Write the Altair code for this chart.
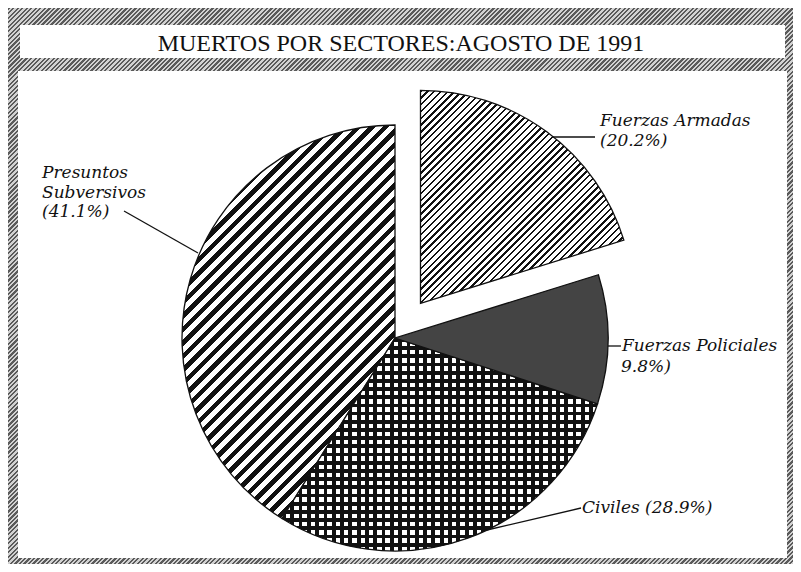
import math
import altair as alt
import pandas as pd

# ---------------- data ----------------
categories = ["Fuerzas Armadas", "Fuerzas Policiales", "Civiles", "Presuntos Subversivos"]
values = [20.2, 9.8, 28.9, 41.1]
title_text = "MUERTOS POR SECTORES:AGOSTO DE 1991"
label_texts = ["Fuerzas Armadas", "(20.2%)",
               "Fuerzas Policiales", "9.8%)",
               "Civiles (28.9%)",
               "Presuntos", "Subversivos", "(41.1%)"]

# ---------------- layout (pixels, reference coords) ----------------
W, H = 785, 556
OFF = 8


def px(v):
    return v - OFF


CX, CY, R = px(395), px(338), 213
EXPLODE = 43
label_pos = [(600, 121), (600, 141),
             (622, 346), (621, 367),
             (582, 508),
             (42, 173), (42, 193), (42, 212)]
leader_pos = [((553, 137), (595, 137)),
              ((608, 346), (621, 346)),
              ((487, 530), (581, 508)),
              ((124, 211), (198, 253))]

total = sum(values)
angles = []
acc = 0.0
for v in values:
    a0 = 2 * math.pi * acc / total
    acc += v
    a1 = 2 * math.pi * acc / total
    angles.append((a0, a1))


def sector_bbox(a0, a1, r):
    pts = [(0.0, 0.0), (r * math.sin(a0), -r * math.cos(a0)), (r * math.sin(a1), -r * math.cos(a1))]
    for k in range(5):
        a = k * math.pi / 2
        if a0 <= a <= a1:
            pts.append((r * math.sin(a), -r * math.cos(a)))
    xs = [p[0] for p in pts]
    ys = [p[1] for p in pts]
    return max(xs) - min(xs), max(ys) - min(ys)


def stripe_stops(n, frac, c_on, c_off):
    stops = []
    for i in range(n):
        a = i / n
        b = (i + frac) / n
        c = (i + 1) / n
        stops += [{"offset": round(a, 6), "color": c_on},
                  {"offset": round(b, 6), "color": c_on},
                  {"offset": round(b, 6), "color": c_off},
                  {"offset": round(min(c, 1.0), 6), "color": c_off}]
    return stops


def diag_grad(w, h, period, frac, c_on, c_off):
    k = (w + h) / (w * w + h * h)
    n = max(1, int(round((w + h) / (period * math.sqrt(2)))))
    return {"gradient": "linear", "x1": 0, "y1": 0, "x2": k * w, "y2": k * h,
            "stops": stripe_stops(n, frac, c_on, c_off)}


def lin_grad(horizontal, length, period, frac, c_on, c_off):
    n = max(1, int(round(length / period)))
    g = {"gradient": "linear", "x1": 0, "y1": 0,
         "x2": 0 if horizontal else 1, "y2": 1 if horizontal else 0,
         "stops": stripe_stops(n, frac, c_on, c_off)}
    return g


# ---------------- base data ----------------
df = pd.DataFrame({"category": categories, "value": values, "idx": list(range(len(values)))})
base = (
    alt.Chart(df)
    .transform_joinaggregate(total="sum(value)")
    .transform_window(cum="sum(value)", sort=[alt.SortField("idx")], frame=[None, 0])
    .transform_calculate(start="2*PI*(datum.cum-datum.value)/datum.total",
                         end="2*PI*datum.cum/datum.total")
)


def slice_layer(cat, fill, cx, cy, stroke=None):
    kw = dict(radius=R, fill=fill)
    if stroke:
        kw.update(stroke=stroke, strokeWidth=1.3)
    else:
        kw.update(strokeWidth=0)
    return (
        base.transform_filter(alt.datum.category == cat)
        .mark_arc(**kw)
        .encode(theta=alt.Theta("start:Q", scale=None), theta2=alt.Theta2("end:Q"),
                x=alt.value(cx), y=alt.value(cy))
    )


one = pd.DataFrame({"a": [0]})

frame = alt.Chart(one).mark_rect(fill=diag_grad(W, H, 3.2, 0.5, "#5a5a5a", "#d2d2d2")).encode(
    x=alt.value(0), x2=alt.value(W), y=alt.value(0), y2=alt.value(H))
title_box = alt.Chart(one).mark_rect(fill="white").encode(
    x=alt.value(px(20)), x2=alt.value(px(785)), y=alt.value(px(25)), y2=alt.value(px(58)))
panel = alt.Chart(one).mark_rect(fill="white").encode(
    x=alt.value(px(18)), x2=alt.value(px(787)), y=alt.value(px(71)), y2=alt.value(px(558)))
title = alt.Chart(pd.DataFrame({"t": [title_text]})).mark_text(
    font="Liberation Serif", fontSize=24, color="#111", align="center", baseline="middle").encode(
    text="t:N", x=alt.value(px(401)), y=alt.value(px(44)))

# slices
a_arm = angles[0]
mid = (a_arm[0] + a_arm[1]) / 2
ex_x = CX + EXPLODE * math.sin(mid)
ex_y = CY - EXPLODE * math.cos(mid)

w0, h0 = sector_bbox(*angles[0], R)
arm = slice_layer(categories[0], diag_grad(w0, h0, 4.8, 0.36, "#111", "white"), ex_x, ex_y, stroke="#111")

pol = slice_layer(categories[1], "#444444", CX, CY, stroke="#111")

w2, h2 = sector_bbox(*angles[2], R)
civ_base = slice_layer(categories[2], "white", CX, CY)
civ_h = slice_layer(categories[2], lin_grad(True, h2, 8.3, 0.46, "#111", "rgba(0,0,0,0)"), CX, CY)
civ_v = slice_layer(categories[2], lin_grad(False, w2, 8.3, 0.46, "#111", "rgba(0,0,0,0)"), CX, CY, stroke="#111")

w3, h3 = sector_bbox(*angles[3], R)
pre = slice_layer(categories[3], diag_grad(w3, h3, 9.5, 0.48, "#111", "white"), CX, CY, stroke="#111")

# labels
lab_df = pd.DataFrame({"text": label_texts,
                       "lx": [px(p[0]) for p in label_pos],
                       "ly": [px(p[1]) for p in label_pos]})
labels = alt.Chart(lab_df).mark_text(
    font="DejaVu Serif", fontStyle="italic", fontSize=17, color="#111",
    align="left", baseline="middle").encode(
    text="text:N", x=alt.X("lx:Q", scale=None), y=alt.Y("ly:Q", scale=None))

lead_df = pd.DataFrame({"x1": [px(a[0]) for a, b in leader_pos], "y1": [px(a[1]) for a, b in leader_pos],
                        "x2": [px(b[0]) for a, b in leader_pos], "y2": [px(b[1]) for a, b in leader_pos]})
leaders = alt.Chart(lead_df).mark_rule(color="#111", strokeWidth=1.3).encode(
    x=alt.X("x1:Q", scale=None), y=alt.Y("y1:Q", scale=None),
    x2="x2:Q", y2="y2:Q")

chart = alt.layer(frame, title_box, panel, title, pre, civ_base, civ_h, civ_v, pol, arm, leaders, labels).properties(
    width=W, height=H, padding=0, autosize=alt.AutoSizeParams(type="none")
).configure_view(stroke=None).configure(background="white")

chart.save("out.html", embed_options={"renderer": "svg", "actions": False})
